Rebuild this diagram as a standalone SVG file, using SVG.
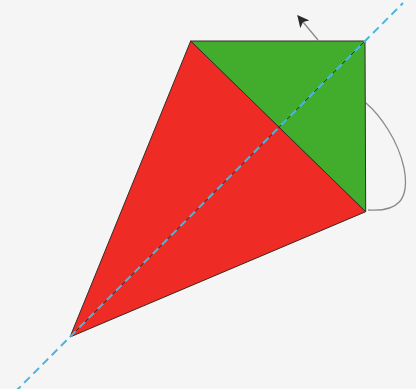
<svg xmlns="http://www.w3.org/2000/svg" width="416" height="389" viewBox="0 0 416 389">
<defs>
<style>
.edge{stroke:#3a2a22;stroke-width:1;stroke-linejoin:round}
.fold{fill:none;stroke:#4ab6e0;stroke-width:2;stroke-dasharray:8 5}
.turn{fill:none;stroke:#8a8a8e;stroke-width:1.3}
</style>
<marker id="ah" viewBox="0 0 10 10" refX="9" refY="5" markerWidth="12" markerHeight="12" markerUnits="userSpaceOnUse" orient="auto">
<path d="M0,0 L10,5 L0,10 L2.5,5 Z" fill="#2a2a2e"/>
</marker>
</defs>
<rect width="416" height="389" fill="#f5f5f6"/>
<g id="connectors">
<path class="turn" d="M368,210 C398,212 410,200 404,168 C398,140 380,115 366,103" />
<path class="turn" d="M318,40 L298,16" marker-end="url(#ah)"/>
</g>
<g id="red-flap">
<polygon class="edge" points="190.7,41 365.7,211.7 70,337" fill="#ee2b25"/>
</g>
<g id="green-flap">
<polygon class="edge" points="190.7,41 365,41 365.7,211.7" fill="#42ad2c"/>
</g>
<g id="crease">
<line x1="70" y1="337" x2="365" y2="41" stroke="#3a2a22" stroke-width="1"/>
</g>
<g id="fold-line">
<line class="fold" x1="15" y1="392" x2="403" y2="3"/>
</g>
</svg>
